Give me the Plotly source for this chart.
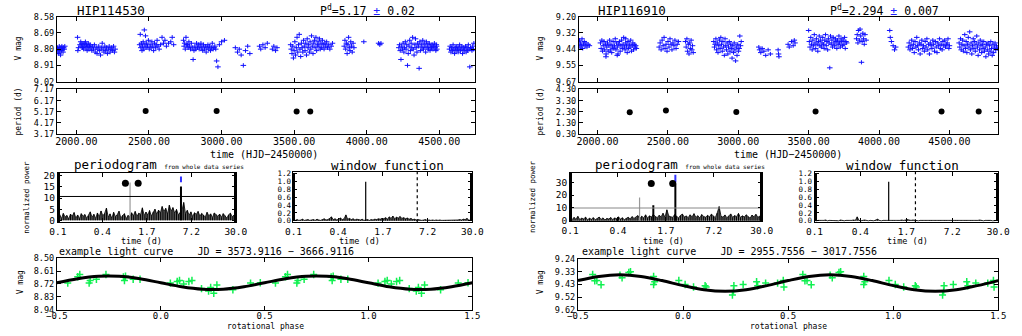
import numpy as np
import plotly.graph_objects as go

W, H = 1022, 336
FONT = "DejaVu Sans Mono"

# ====================== DATA : HIP114530 ======================
star_a = "HIP114530"
per_txt_a, per_err_a = "5.17", "0.02"
P_a = 5.17
verr_a = 0.015
hjd_a = [1867,1870,1873,1876,1879,1882,1885,1888,1891,1894,1897,1900,1904,1908,1912,1916,1920,
         2008,2010,2015,2025,2030,2034,2038,2042,2046,2050,2054,2058,2062,2066,2070,2074,2078,2082,2086,2090,
         2095,2100,2106,2112,2118,2124,2130,2136,2142,2148,2154,2160,2166,2172,2178,2184,2190,2196,2202,2208,
         2214,2220,2226,2232,2238,2244,2250,2256,2262,2267,
         2436,2440,2444,2448,2452,2456,2460,2464,2468,2472,2476,2480,2484,2490,2496,2502,2508,2514,2520,2526,
         2532,2538,2544,2550,2556,2562,2570,2580,2590,2600,2610,2620,2635,2650,2660,2670,
         2738,2742,2746,2750,2755,2760,2765,2770,2775,2780,2786,2792,2798,2804,2810,2816,2822,2828,2834,2840,
         2846,2852,2858,2864,2870,2876,2882,2888,2894,2900,2906,2912,2918,2924,2930,2936,2942,2948,2954,2960,
         2966,2975,2985,3000,3020,
         3095,3110,3122,3135,3150,3165,3180,3195,
         3262,3270,3285,3300,3315,3350,3360,3372,3382,
         3476,3480,3485,3490,3495,3500,3505,3510,3515,3520,3525,3530,3535,3540,3545,3550,3555,3560,3565,3570,
         3575,3580,3585,3590,3595,3600,3605,3610,3615,3620,3625,3630,3635,3640,3645,3650,3655,3660,3665,3670,
         3675,3680,3685,3690,3695,3700,3706,3712,3718,3724,3730,3738,3746,3755,3764,
         3845,3850,3855,3860,3865,3870,3875,3880,3885,3890,3895,3900,3906,3912,
         3980,4082,4090,4098,
         4221,4226,4231,4236,4241,4246,4251,4256,4261,4266,4271,4276,4281,4286,4291,4296,4301,4306,4311,4316,
         4321,4326,4331,4336,4341,4346,4351,4356,4361,4366,4371,4376,4381,4386,4391,4396,4401,4406,4411,4416,
         4421,4426,4431,4436,4441,4446,4451,4456,4461,4466,4471,4476,4481,4483,4479,
         4570,4575,4580,4585,4590,4595,4600,4605,4610,4615,4620,4625,4630,4635,4640,4645,4650,4655,4660,4665,
         4670,4675,4680,4685,4690,4695,4700,4705,4710,4715,4720,4725,4730,4735,4738]
vmag_a = [8.80,8.79,8.82,8.80,8.83,8.78,8.81,8.80,8.84,8.79,8.81,8.78,8.80,8.82,8.79,8.80,8.78,
          8.72,8.81,8.79,8.77,8.75,8.78,8.76,8.79,8.77,8.80,8.76,8.78,8.75,8.79,8.77,8.81,8.78,8.76,8.80,8.78,
          8.77,8.79,8.81,8.78,8.80,8.77,8.82,8.79,8.83,8.80,8.78,8.81,8.84,8.79,8.76,8.80,8.82,8.78,8.81,8.79,
          8.83,8.80,8.78,8.82,8.80,8.79,8.81,8.78,8.82,8.80,
          8.77,8.70,8.79,8.76,8.81,8.78,8.75,8.80,8.67,8.77,8.71,8.79,8.76,8.78,8.74,8.80,8.77,8.79,8.75,8.78,
          8.81,8.76,8.79,8.77,8.74,8.78,8.80,8.77,8.72,8.76,8.74,8.78,8.76,8.75,8.72,8.77,
          8.74,8.78,8.76,8.80,8.72,8.77,8.77,8.79,8.75,8.78,8.80,8.76,8.79,8.87,8.81,8.78,8.80,8.76,8.79,8.77,
          8.80,8.78,8.76,8.79,8.81,8.77,8.80,8.78,8.82,8.79,8.77,8.80,8.78,8.81,8.79,8.76,8.80,8.79,8.78,8.80,
          8.88,8.92,8.77,8.75,8.74,
          8.79,8.82,8.80,8.84,8.91,8.81,8.78,8.83,
          8.78,8.80,8.77,8.79,8.76,8.80,8.78,8.81,8.79,
          8.77,8.80,8.83,8.78,8.86,8.81,8.75,8.84,8.79,8.72,8.82,8.77,8.70,8.80,8.85,8.76,8.79,8.82,8.74,8.78,
          8.81,8.76,8.84,8.73,8.79,8.77,8.82,8.75,8.80,8.71,8.78,8.83,8.76,8.74,8.79,8.72,8.81,8.77,8.75,8.78,
          8.73,8.80,8.76,8.79,8.74,8.77,8.80,8.76,8.78,8.75,8.79,8.77,8.80,8.78,8.76,
          8.78,8.74,8.80,8.76,8.83,8.77,8.72,8.79,8.81,8.75,8.78,8.82,8.76,8.79,
          8.75,8.76,8.77,8.76,
          8.79,8.77,8.81,8.87,8.78,8.80,8.76,8.82,8.79,8.75,8.80,8.77,8.91,8.83,8.78,8.74,8.81,8.76,8.79,8.72,
          8.80,8.84,8.77,8.73,8.79,8.82,8.76,8.78,8.93,8.75,8.81,8.77,8.79,8.74,8.80,8.76,8.78,8.82,8.75,8.79,
          8.77,8.80,8.76,8.81,8.78,8.79,8.77,8.80,8.78,8.76,8.79,8.81,8.78,8.80,8.77,
          8.80,8.78,8.82,8.79,8.81,8.77,8.80,8.83,8.79,8.81,8.78,8.80,8.82,8.79,8.77,8.81,8.80,8.78,8.83,8.79,
          8.81,8.80,8.78,8.82,8.79,8.81,8.77,8.80,8.92,8.79,8.80,8.81,8.78,8.80,8.76]
seas_t_a = [2477, 2966, 3517, 3611]
seas_p_a = [5.24, 5.23, 5.19, 5.19]
pgram_a = [1.2,2.5,0.8,3.1,1.5,2.2,0.6,2.8,1.9,3.5, 1.0,2.4,0.7,3.0,1.8,2.6,0.9,2.1,3.8,1.3,
           2.7,0.8,3.3,1.6,4.2,2.0,3.1,5.5,1.4,2.9, 0.9,3.6,1.7,2.5,4.1,1.1,2.3,3.0,0.7,2.2,
           1.5,3.4,2.0,4.0,1.8,3.2,2.6,5.6,2.1,3.7, 2.4,4.4,1.9,3.8,5.0,2.7,4.6,3.3,6.2,3.9,
           5.4,2.8,6.8,4.1,5.7,3.2,4.9,2.5,3.6,4.3, 8.0,3.0,4.5,2.2,3.8,1.6,3.4,2.7,4.0,1.9,
           3.1,2.4,1.5,3.6,2.0,2.9,1.2,3.3,2.6,1.8, 2.8,1.4,3.0,2.1,1.0,2.5,3.2,1.6,2.3,1.1]
alias_per_a, alias_pow_a = [1.01], [17.0]
peak_per_a, peak_pow_a = [5.17], [15.2]
fap_a = 10.7
dots_per_a, dots_pow_a = [0.87, 1.31], [16.6, 16.6]
mark_pow_a = [17.1, 19.7]
wfunc_a = [0.02,0.01,0.03,0.01,0.02,0.04,0.01,0.02,0.03,0.01, 0.02,0.03,0.01,0.04,0.02,0.01,0.03,0.05,0.02,0.03,
           0.06,0.10,0.03,0.05,0.02,0.04,0.07,0.03,0.05,0.15, 0.04,0.06,0.03,0.05,0.02,0.04,0.03,0.02,0.04,0.01,
           0.02,0.03,0.01,0.03,0.02,0.04,0.03,0.05,0.04,0.06, 0.05,0.08,0.04,0.10,0.06,0.12,0.05,0.09,0.07,0.11,
           0.06,0.08,0.05,0.07,0.04,0.06,0.03,0.04,0.02,0.03, 0.02,0.01,0.02,0.03,0.01,0.02,0.01,0.02,0.01,0.02,
           0.01,0.02,0.01,0.01,0.02,0.01,0.02,0.01,0.01,0.02, 0.01,0.02,0.03,0.02,0.04,0.03,0.06,0.02,0.01,0.02]
lc_title_a = "example light curve\u00a0\u00a0\u00a0\u00a0JD = 3573.9116 \u2212 3666.9116"
ph_a = [-0.448,-0.40,-0.39,-0.345,-0.34,-0.31,-0.264,-0.18,-0.175,-0.17,-0.133,-0.10,0.046,0.079,0.09,
        0.11,0.135,0.15,0.196,0.23,0.24,0.255,0.27,0.347,0.432,0.479]
lcmag_a = [8.713,8.658,8.64,8.713,8.69,8.68,8.64,8.66,8.69,8.655,8.68,8.68,8.713,8.70,8.69,
           8.72,8.70,8.69,8.76,8.78,8.75,8.80,8.73,8.77,8.713,8.71]
lcerr_a = 0.032
fit_ph = [-0.5,-0.4,-0.3,-0.2,-0.1,0.0,0.1,0.2,0.3,0.4,0.5]
fit_a = [8.710,8.676,8.655,8.655,8.676,8.710,8.744,8.765,8.765,8.744,8.710]

# ====================== DATA : HIP116910 ======================
star_b = "HIP116910"
per_txt_b, per_err_b = "2.294", "0.007"
P_b = 2.294
verr_b = 0.015
hjd_b = [1868,1872,1876,1880,1885,1890,1895,1900,1906,1912,1918,1925,1933,1942,
         2021,2026,2031,2036,2041,2046,2051,2056,2061,2066,2071,2076,2081,2086,2091,2096,2101,2106,2111,2116,
         2121,2126,2131,2136,2141,2146,2151,2156,2161,2166,2171,2176,2181,2186,2191,2196,2201,2206,2211,2216,
         2221,2226,2231,2236,2241,2246,2251,2256,2261,2266,2271,2276,2060,2140,2200,
         2438,2445,2452,2459,2466,2473,2480,2487,2494,2501,2508,2515,2522,2529,2536,2543,2550,2558,2566,2575,
         2625,2630,2635,2640,2645,2650,2655,2660,2665,2670,2675,2680,
         2826,2831,2836,2841,2846,2851,2856,2861,2866,2871,2876,2881,2886,2891,2896,2901,2906,2911,2916,2921,
         2926,2931,2936,2941,2946,2951,2956,2961,2966,2971,2976,2981,2986,2991,2996,3001,3006,3011,3016,3021,
         3146,3152,3160,3170,3182,3195,3212,3228,3283,3286,3289,
         3354,3362,3378,3390,3398,3403,
         3500,3505,3510,3515,3520,3525,3530,3535,3540,3545,3550,3555,3560,3565,3570,3575,3580,3585,3590,3595,
         3600,3605,3610,3615,3620,3625,3630,3635,3640,3645,3650,3655,3660,3665,3670,3675,3680,3685,3690,3695,
         3700,3705,3710,3715,3720,3725,3730,3735,3740,3745,3750,3755,3760,3765,3770,
         3840,3845,3850,3855,3860,3865,3870,3875,3880,3885,3890,3895,3900,3908,
         4076,4080,4088,4100,4110,4118,
         4208,4214,4220,4226,4232,4238,4244,4250,4256,4262,4268,4274,4280,4286,4292,4298,4304,4310,4316,4322,
         4328,4334,4340,4346,4352,4358,4364,4370,4376,4382,4388,4394,4400,4406,4412,4418,4424,4430,4436,4442,
         4448,4454,4460,4466,4472,4478,4484,4490,4496,4500,
         4569,4574,4579,4584,4589,4594,4599,4604,4609,4614,4619,4624,4629,4634,4639,4644,4649,4654,4659,4664,
         4669,4674,4679,4684,4689,4694,4699,4704,4709,4714,4719,4724,4729,4734,4739,4744,4749,4754,4759,4764,
         4769,4774,4779,4784,4789,4794,4799,4804,4809,4814,4819,4824,4829,4834,4840]
vmag_b = [9.40,9.37,9.42,9.39,9.41,9.36,9.43,9.40,9.38,9.41,9.39,9.42,9.40,9.41,
          9.39,9.43,9.37,9.45,9.41,9.38,9.44,9.40,9.47,9.42,9.39,9.45,9.41,9.37,9.44,9.40,9.46,9.42,9.38,9.43,
          9.41,9.36,9.44,9.39,9.42,9.47,9.40,9.38,9.45,9.41,9.37,9.43,9.40,9.35,9.42,9.44,9.39,9.41,9.46,9.38,
          9.43,9.40,9.42,9.37,9.45,9.41,9.39,9.44,9.40,9.42,9.41,9.43,9.49,9.48,9.36,
          9.42,9.39,9.44,9.37,9.41,9.35,9.43,9.40,9.45,9.38,9.42,9.36,9.40,9.44,9.39,9.41,9.37,9.43,9.40,9.38,
          9.38,9.42,9.36,9.45,9.40,9.47,9.39,9.43,9.37,9.44,9.41,9.46,
          9.38,9.42,9.40,9.36,9.44,9.39,9.46,9.41,9.37,9.43,9.35,9.40,9.45,9.38,9.42,9.48,9.36,9.41,9.44,9.39,
          9.47,9.42,9.38,9.45,9.40,9.43,9.50,9.41,9.46,9.39,9.44,9.52,9.42,9.48,9.40,9.45,9.43,9.34,9.41,9.38,
          9.42,9.44,9.46,9.43,9.45,9.48,9.44,9.47,9.44,9.47,9.49,
          9.40,9.42,9.38,9.41,9.37,9.39,
          9.30,9.38,9.42,9.35,9.40,9.44,9.37,9.41,9.33,9.39,9.43,9.36,9.40,9.45,9.38,9.34,9.41,9.37,9.42,9.39,
          9.35,9.40,9.43,9.37,9.33,9.41,9.38,9.44,9.36,9.39,9.57,9.34,9.40,9.37,9.42,9.35,9.39,9.41,9.36,9.38,
          9.43,9.37,9.40,9.34,9.39,9.42,9.36,9.38,9.41,9.37,9.40,9.35,9.43,9.38,9.39,
          9.36,9.33,9.39,9.30,9.37,9.29,9.34,9.53,9.38,9.32,9.36,9.40,9.33,9.37,
          9.30,9.35,9.38,9.41,9.44,9.42,
          9.42,9.39,9.44,9.41,9.37,9.43,9.40,9.46,9.38,9.42,9.35,9.41,9.44,9.39,9.47,9.40,9.37,9.43,9.41,9.45,
          9.38,9.42,9.36,9.44,9.40,9.47,9.39,9.41,9.43,9.37,9.40,9.45,9.38,9.42,9.46,9.39,9.41,9.36,9.43,9.40,
          9.44,9.38,9.41,9.37,9.42,9.40,9.39,9.36,9.43,9.41,
          9.39,9.42,9.36,9.44,9.40,9.37,9.45,9.41,9.33,9.43,9.38,9.46,9.40,9.35,9.42,9.31,9.44,9.39,9.47,9.41,
          9.36,9.43,9.38,9.45,9.40,9.34,9.42,9.48,9.39,9.44,9.37,9.41,9.46,9.40,9.43,9.38,9.45,9.42,9.49,9.40,
          9.44,9.39,9.47,9.41,9.45,9.38,9.43,9.48,9.40,9.46,9.42,9.39,9.44,9.41,9.43]
seas_t_b = [2229, 2486, 2986, 3549, 4444, 4708]
seas_p_b = [2.26, 2.40, 2.28, 2.33, 2.31, 2.31]
pgram_b = [1.5,0.8,2.6,1.2,3.4,0.9,2.0,1.4,2.8,0.7, 1.9,1.1,2.4,0.8,1.7,2.9,1.0,2.2,0.6,1.8,
           1.3,2.5,0.9,2.1,1.6,3.0,1.2,2.3,0.8,1.9, 2.7,1.4,3.2,1.8,2.6,4.0,1.5,3.5,2.2,4.6,
           2.0,3.8,2.9,5.0,3.3,2.4,4.2,3.0,5.8,2.7, 8.5,3.6,3.1,2.6,4.8,3.5,2.2,4.1,5.2,2.9,
           3.7,2.4,4.6,3.0,5.5,2.6,3.9,2.1,4.8,3.3, 2.7,4.2,3.0,5.1,3.6,2.4,6.0,11.0,3.4,2.8,
           4.5,2.3,3.7,5.3,2.6,4.0,3.1,5.7,2.5,3.8, 2.9,4.6,3.2,2.0,4.4,3.0,5.0,2.7,3.5,2.2]
alias_per_b, alias_pow_b = [0.79], [18.0]
peak_per_b, peak_pow_b = [1.19, 2.294], [12.0, 29.0]
fap_b = 9.9
dots_per_b, dots_pow_b = [1.12, 2.12], [29.0, 29.0]
mark_pow_b = [29.8, 35.8]
wfunc_b = [0.01,0.00,0.01,0.01,0.00,0.01,0.02,0.00,0.01,0.01, 0.00,0.01,0.01,0.00,0.02,0.01,0.00,0.01,0.01,0.00,
           0.01,0.02,0.01,0.10,0.01,0.00,0.01,0.02,0.01,0.00, 0.01,0.01,0.00,0.02,0.04,0.01,0.00,0.01,0.01,0.00,
           0.01,0.00,0.01,0.01,0.00,0.01,0.01,0.02,0.01,0.02, 0.03,0.02,0.01,0.02,0.01,0.01,0.00,0.01,0.01,0.00,
           0.01,0.00,0.01,0.01,0.00,0.01,0.00,0.01,0.01,0.00, 0.01,0.01,0.00,0.01,0.01,0.00,0.01,0.01,0.00,0.01,
           0.00,0.01,0.01,0.00,0.01,0.01,0.00,0.01,0.01,0.02, 0.01,0.00,0.01,0.01,0.02,0.01,0.00,0.01,0.01,0.00]
lc_title_b = "example light curve\u00a0\u00a0\u00a0\u00a0JD = 2955.7556 \u2212 3017.7556"
ph_b = [-0.43,-0.42,-0.41,-0.39,-0.30,-0.29,-0.258,-0.25,-0.14,-0.14,-0.135,-0.02,0.01,0.05,0.105,0.11,
        0.235,0.24,0.242,0.286,0.35,0.355,0.393,0.45,0.477,0.48]
lcmag_b = [9.355,9.403,9.40,9.432,9.36,9.38,9.34,9.335,9.37,9.43,9.41,9.40,9.43,9.45,9.44,9.45,
           9.51,9.48,9.44,9.43,9.41,9.44,9.42,9.42,9.40,9.45]
lcerr_b = 0.028
fit_b = [9.401,9.370,9.358,9.370,9.401,9.439,9.470,9.482,9.470,9.439,9.401]

# shared axis labels / ticks
logp_ticks = [0.1, 0.4159, 1.7297, 7.194, 30.0]
logp_text = ["0.1", "0.4", "1.7", "7.2", "30.0"]
time_ticks = [2000, 2500, 3000, 3500, 4000, 4500]
time_text = ["2000.00", "2500.00", "3000.00", "3500.00", "4000.00", "4500.00"]
phase_ticks = [-0.5, 0.0, 0.5, 1.0, 1.5]
phase_text = ["\u22120.5", "0.0", "0.5", "1.0", "1.5"]
wf_ticks = [0.0, 0.2, 0.4, 0.6, 0.8, 1.0, 1.2]
wf_text = ["0.0", "0.2", "0.4", "0.6", "0.8", "1.0", "1.2"]

panels = [
    dict(star=star_a, ptxt=per_txt_a, perr=per_err_a, P=P_a, hjd=hjd_a, vmag=vmag_a, verr=verr_a,
         vticks=[8.58, 8.69, 8.80, 8.91, 9.02], vtext=["8.58", "8.69", "8.80", "8.91", "9.02"],
         trange=[1866, 4748], st=seas_t_a, sp=seas_p_a,
         pticks=[3.17, 4.17, 5.17, 6.17, 7.17], ptext=["3.17", "4.17", "5.17", "6.17", "7.17"],
         pg=pgram_a, alias=(alias_per_a, alias_pow_a), peak=(peak_per_a, peak_pow_a), fap=fap_a,
         fapcol="black",
         dots=(dots_per_a, dots_pow_a), mark=mark_pow_a, pgrange=[-0.9, 21.3], pgticks=[0, 5, 10, 15, 20],
         wf=wfunc_a, lct=lc_title_a, ph=ph_a, lcm=lcmag_a, lce=lcerr_a, fit=fit_a,
         lcticks=[8.50, 8.61, 8.72, 8.83, 8.94], lctext=["8.50", "8.61", "8.72", "8.83", "8.94"],
         dom=dict(v=(47, 475, 12, 79), p=(47, 475, 87, 133), g=(48, 230, 173, 224),
                  w=(289, 472, 172, 224), l=(47, 472, 261, 314)),
         lab=dict(title=102, ptitle=365, vmag=8, time=259, pgx=62, npow=15, td1=133, td2=357, wf=385,
                  lct=47, lcv=10, rot=260)),
    dict(star=star_b, ptxt=per_txt_b, perr=per_err_b, P=P_b, hjd=hjd_b, vmag=vmag_b, verr=verr_b,
         vticks=[9.20, 9.3175, 9.435, 9.5525, 9.67], vtext=["9.20", "9.32", "9.44", "9.55", "9.67"],
         trange=[1868, 4847], st=seas_t_b, sp=seas_p_b,
         pticks=[0.30, 1.30, 2.30, 3.30, 4.30], ptext=["0.30", "1.30", "2.30", "3.30", "4.30"],
         pg=pgram_b, alias=(alias_per_b, alias_pow_b), peak=(peak_per_b, peak_pow_b), fap=fap_b,
         fapcol="#888888",
         dots=(dots_per_b, dots_pow_b), mark=mark_pow_b, pgrange=[-0.5, 37.3], pgticks=[0, 10, 20, 30],
         wf=wfunc_b, lct=lc_title_b, ph=ph_b, lcm=lcmag_b, lce=lcerr_b, fit=fit_b,
         lcticks=[9.24, 9.335, 9.43, 9.525, 9.62], lctext=["9.24", "9.33", "9.43", "9.52", "9.62"],
         dom=dict(v=(581, 1010, 12, 79), p=(581, 1010, 87, 133), g=(572, 768, 173, 223),
                  w=(822, 1010, 172, 224), l=(580, 1010, 262, 314)),
         lab=dict(title=635, ptitle=894, vmag=542, time=795, pgx=595, npow=533, td1=668, td2=917, wf=912,
                  lct=582, lcv=542, rot=795)),
]

fig = go.Figure()
layout = {}
annotations = []


def xd(a, b):
    return [a / W, b / W]


def yd(a, b):
    return [1 - b / H, 1 - a / H]


def axis_style(**kw):
    d = dict(showline=True, linecolor="black", linewidth=1, mirror="ticks", ticks="inside",
             ticklen=4, tickcolor="black", tickwidth=1, showgrid=False, zeroline=False,
             tickfont=dict(family=FONT, size=9.5, color="black"))
    d.update(kw)
    return d


def ann(text, x, y, size, angle=0, xanchor="center", color="black"):
    annotations.append(dict(text=text, x=x / W, y=1 - y / H, xref="paper", yref="paper",
                            showarrow=False, xanchor=xanchor, yanchor="middle", textangle=angle,
                            font=dict(family=FONT, size=size, color=color)))


def stems(xs, ys, base=0.0):
    sx, sy = [], []
    for a, b in zip(xs, ys):
        sx += [a, a, None]
        sy += [base, b, None]
    return sx, sy


SMALL = dict(family=FONT, size=8.5, color="black")

ax = 0
for P in panels:
    d = P["dom"]
    ids = {}
    for key in ["v", "p", "g", "w", "l"]:
        ax += 1
        ids[key] = ax

    def xn(k):
        return "x" if ids[k] == 1 else f"x{ids[k]}"

    def yn(k):
        return "y" if ids[k] == 1 else f"y{ids[k]}"

    def xl(k):
        return "xaxis" if ids[k] == 1 else f"xaxis{ids[k]}"

    def yl(k):
        return "yaxis" if ids[k] == 1 else f"yaxis{ids[k]}"

    # ---- V mag time series
    n = min(len(P["hjd"]), len(P["vmag"]))
    fig.add_trace(go.Scatter(x=P["hjd"][:n], y=P["vmag"][:n], mode="markers", xaxis=xn("v"), yaxis=yn("v"),
                             marker=dict(symbol="line-ew", size=4, line=dict(width=1, color="#1010ff")),
                             error_y=dict(type="constant", value=P["verr"], thickness=1, width=0,
                                          color="#1010ff"), showlegend=False, hoverinfo="skip"))
    layout[xl("v")] = axis_style(domain=xd(d["v"][0], d["v"][1]), anchor=yn("v"), range=P["trange"],
                                 tickvals=time_ticks, showticklabels=False)
    layout[yl("v")] = axis_style(domain=yd(d["v"][2], d["v"][3]), anchor=xn("v"),
                                 range=[P["vticks"][-1], P["vticks"][0]], tickvals=P["vticks"],
                                 ticktext=P["vtext"], tickfont=SMALL)

    # ---- seasonal periods
    fig.add_trace(go.Scatter(x=P["st"], y=P["sp"], mode="markers", xaxis=xn("p"), yaxis=yn("p"),
                             marker=dict(symbol="circle", size=6, color="black"),
                             showlegend=False, hoverinfo="skip"))
    layout[xl("p")] = axis_style(domain=xd(d["p"][0], d["p"][1]), anchor=yn("p"), range=P["trange"],
                                 tickvals=time_ticks, ticktext=time_text,
                                 tickfont=dict(family=FONT, size=10, color="black"), ticklabelstandoff=-2)
    layout[yl("p")] = axis_style(domain=yd(d["p"][2], d["p"][3]), anchor=xn("p"),
                                 range=[P["pticks"][0], P["pticks"][-1]], tickvals=P["pticks"],
                                 ticktext=P["ptext"], tickfont=SMALL)

    # ---- periodogram
    grid = list(np.geomspace(0.1, 30.0, len(P["pg"])))
    fig.add_trace(go.Scatter(x=grid, y=P["pg"], mode="lines", xaxis=xn("g"), yaxis=yn("g"),
                             line=dict(color="black", width=0.8), fill="tozeroy",
                             fillcolor="rgba(0,0,0,0.55)", showlegend=False, hoverinfo="skip"))
    sx, sy = stems(grid, P["pg"])
    fig.add_trace(go.Scatter(x=sx, y=sy, mode="lines", xaxis=xn("g"), yaxis=yn("g"),
                             line=dict(color="black", width=1), showlegend=False, hoverinfo="skip"))
    sx, sy = stems(*P["alias"])
    fig.add_trace(go.Scatter(x=sx, y=sy, mode="lines", xaxis=xn("g"), yaxis=yn("g"),
                             line=dict(color="#999999", width=1.2), showlegend=False, hoverinfo="skip"))
    sx, sy = stems(*P["peak"])
    fig.add_trace(go.Scatter(x=sx, y=sy, mode="lines", xaxis=xn("g"), yaxis=yn("g"),
                             line=dict(color="black", width=2), showlegend=False, hoverinfo="skip"))
    fig.add_trace(go.Scatter(x=[0.1, 30.0], y=[P["fap"], P["fap"]], mode="lines", xaxis=xn("g"),
                             yaxis=yn("g"), line=dict(color=P["fapcol"], width=1),
                             showlegend=False, hoverinfo="skip"))
    fig.add_trace(go.Scatter(x=[P["P"], P["P"]], y=P["mark"], mode="lines", xaxis=xn("g"), yaxis=yn("g"),
                             line=dict(color="#3333ff", width=2), showlegend=False, hoverinfo="skip"))
    fig.add_trace(go.Scatter(x=P["dots"][0], y=P["dots"][1], mode="markers", xaxis=xn("g"), yaxis=yn("g"),
                             marker=dict(symbol="circle", size=7, color="black"),
                             showlegend=False, hoverinfo="skip"))
    layout[xl("g")] = axis_style(domain=xd(d["g"][0], d["g"][1]), anchor=yn("g"), type="log",
                                 range=[-1, np.log10(30.0)], tickvals=logp_ticks, ticktext=logp_text)
    layout[yl("g")] = axis_style(domain=yd(d["g"][2], d["g"][3]), anchor=xn("g"), range=P["pgrange"],
                                 tickvals=P["pgticks"],
                                 minor=dict(ticks="inside", ticklen=2, nticks=25, tickcolor="black"))

    # ---- window function
    grid_w = list(np.geomspace(0.1, 30.0, len(P["wf"])))
    fig.add_trace(go.Scatter(x=grid_w, y=P["wf"], mode="lines", xaxis=xn("w"), yaxis=yn("w"),
                             line=dict(color="black", width=0.8), fill="tozeroy",
                             fillcolor="rgba(0,0,0,0.55)", showlegend=False, hoverinfo="skip"))
    sx, sy = stems(grid_w, P["wf"])
    fig.add_trace(go.Scatter(x=sx, y=sy, mode="lines", xaxis=xn("w"), yaxis=yn("w"),
                             line=dict(color="black", width=1), showlegend=False, hoverinfo="skip"))
    sx, sy = stems([1.0], [1.0])
    fig.add_trace(go.Scatter(x=sx, y=sy, mode="lines", xaxis=xn("w"), yaxis=yn("w"),
                             line=dict(color="black", width=1.2), showlegend=False, hoverinfo="skip"))
    fig.add_trace(go.Scatter(x=[P["P"], P["P"]], y=[-0.04, 1.25], mode="lines", xaxis=xn("w"), yaxis=yn("w"),
                             line=dict(color="black", width=1.2, dash="dot"), showlegend=False,
                             hoverinfo="skip"))
    layout[xl("w")] = axis_style(domain=xd(d["w"][0], d["w"][1]), anchor=yn("w"), type="log",
                                 range=[-1, np.log10(30.0)], tickvals=logp_ticks, ticktext=logp_text)
    layout[yl("w")] = axis_style(domain=yd(d["w"][2], d["w"][3]), anchor=xn("w"), range=[-0.04, 1.25],
                                 tickvals=wf_ticks, ticktext=wf_text,
                                 tickfont=dict(family=FONT, size=7.5, color="black"),
                                 minor=dict(ticks="inside", ticklen=2, nticks=25, tickcolor="black"))

    # ---- light curve
    n = min(len(P["ph"]), len(P["lcm"]))
    ph = list(P["ph"][:n]) + [p + 1 for p in P["ph"][:n]]
    mg = list(P["lcm"][:n]) * 2
    fig.add_trace(go.Scatter(x=ph, y=mg, mode="markers", xaxis=xn("l"), yaxis=yn("l"),
                             marker=dict(symbol="line-ew", size=5, line=dict(width=1.5, color="#10f050")),
                             error_y=dict(type="constant", value=P["lce"], thickness=1.5, width=0,
                                          color="#10f050"), showlegend=False, hoverinfo="skip"))
    fx = list(fit_ph) + [p + 1 for p in fit_ph[1:]]
    fy = list(P["fit"]) + list(P["fit"][1:])
    fig.add_trace(go.Scatter(x=fx, y=fy, mode="lines", xaxis=xn("l"), yaxis=yn("l"),
                             line=dict(color="black", width=3, shape="spline"), showlegend=False,
                             hoverinfo="skip"))
    layout[xl("l")] = axis_style(domain=xd(d["l"][0], d["l"][1]), anchor=yn("l"), range=[-0.5, 1.5],
                                 tickvals=phase_ticks, ticktext=phase_text,
                                 tickfont=dict(family=FONT, size=9, color="black"),
                                 ticklabelstandoff=-2)
    layout[yl("l")] = axis_style(domain=yd(d["l"][2], d["l"][3]), anchor=xn("l"),
                                 range=[P["lcticks"][-1], P["lcticks"][0]], tickvals=P["lcticks"],
                                 ticktext=P["lctext"], tickfont=SMALL)

    # ---- texts
    L = P["lab"]
    ann(P["star"], L["title"], 6, 12.5)
    ann(f"P<sup>d</sup>={P['ptxt']} <span style='color:#2222ff'>\u00b1</span> {P['perr']}",
        L["ptitle"], 6, 11.5)
    ann("V mag", L["vmag"], 45, 8, angle=-90)
    ann("period (d)", L["vmag"], 110, 8, angle=-90)
    ann("time (HJD\u22122450000)", L["time"], 154, 10)
    ann("periodogram <span style='font-size:6px'>from whole data series</span>", L["pgx"], 164, 12.5,
        xanchor="left")
    ann("normalized power", L["npow"], 198, 7.5, angle=-90)
    ann("time (d)", L["td1"], 243, 8.5)
    ann("time (d)", L["td2"], 243, 8.5)
    ann("window function", L["wf"], 165, 12.5)
    ann(P["lct"], L["lct"], 254, 10, xanchor="left")
    ann("V mag", L["lcv"], 286, 8, angle=-90)
    ann("rotational phase", L["rot"], 331.5, 8)

fig.update_layout(width=W, height=H, margin=dict(l=0, r=0, t=0, b=0), paper_bgcolor="white",
                  plot_bgcolor="white", showlegend=False, annotations=annotations, **layout)
fig.write_html("out.html", config={"displayModeBar": False},
               post_script="document.body.style.margin='0px';document.body.style.overflow='hidden';")
